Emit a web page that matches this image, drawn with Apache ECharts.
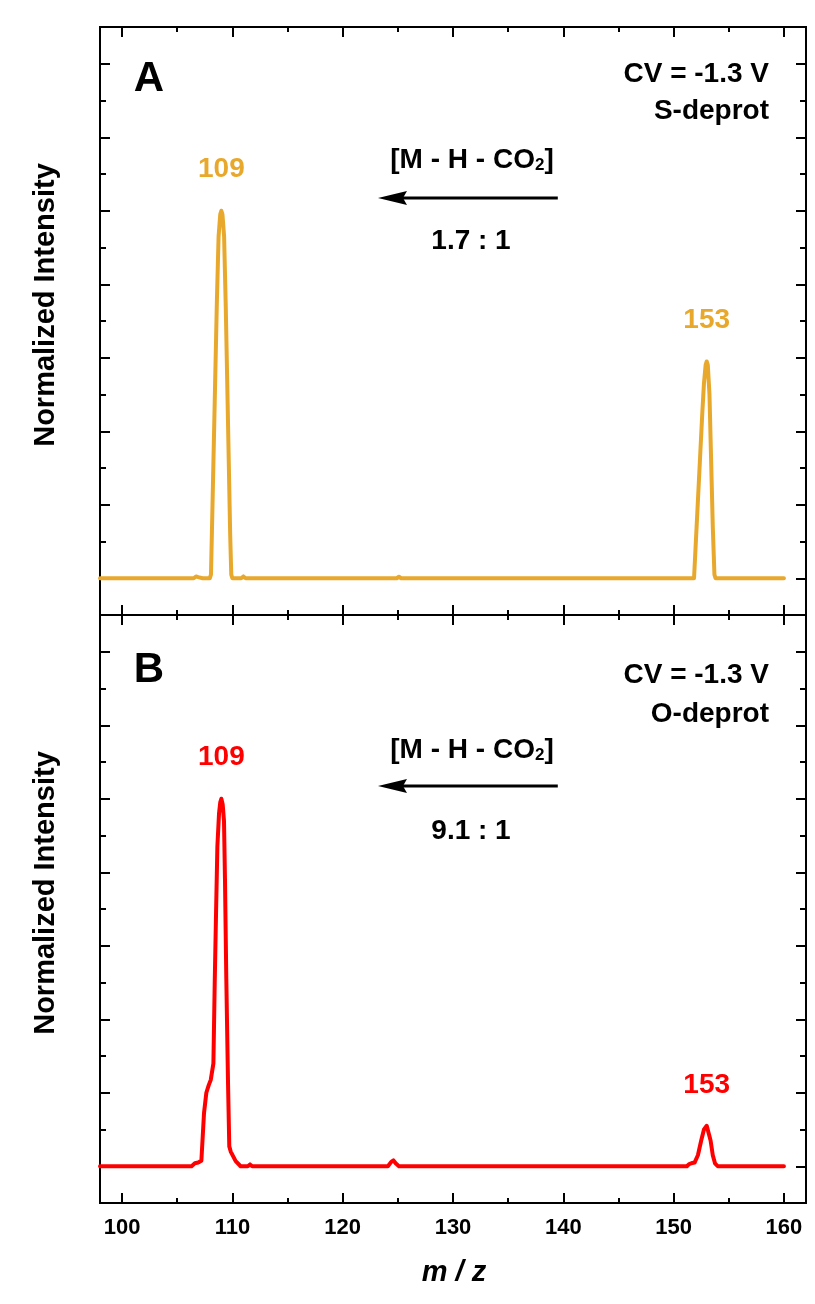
<!DOCTYPE html>
<html>
<head>
<meta charset="utf-8">
<script src="https://cdn.jsdelivr.net/npm/echarts@6/dist/echarts.min.js"></script>
<style>
  html, body { margin: 0; padding: 0; background: #ffffff; }
  #chart { width: 815px; height: 1304px; }
</style>
</head>
<body>
<div id="chart"></div>
<script>
// ---- Spectrum A: S-deprotonated precursor (m/z vs normalized intensity)
const sDeprotMz = [98, 104, 106.5, 106.7, 106.9, 107.3, 107.95, 108.06, 108.2, 108.4,
  108.6, 108.75, 108.9, 109, 109.1, 109.25, 109.4, 109.6, 109.8, 109.9,
  110, 110.8, 111.0, 111.2, 112, 124.9, 125.1, 125.3, 151.85, 152.0,
  152.2, 152.4, 152.6, 152.75, 152.9, 153, 153.1, 153.25, 153.4, 153.55,
  153.7, 153.8, 160];
const sDeprotIntensity = [0, 0, 0, 0.005, 0.003, 0, 0, 0.01, 0.20, 0.48,
  0.76, 0.93, 0.99, 1.0, 0.99, 0.93, 0.74, 0.43, 0.12, 0.01,
  0, 0, 0.005, 0, 0, 0, 0.004, 0, 0, 0.09,
  0.21, 0.33, 0.45, 0.53, 0.58, 0.59, 0.58, 0.50, 0.32, 0.14,
  0.01, 0, 0];

// ---- Spectrum B: O-deprotonated precursor
const oDeprotMz = [98, 106.3, 106.6, 106.9, 107.19, 107.43, 107.64, 107.85, 108.04, 108.28,
  108.40, 108.52, 108.64, 108.79, 108.9, 109.0, 109.12, 109.24, 109.33, 109.45,
  109.60, 109.72, 109.85, 110.0, 110.3, 110.75, 111.4, 111.6, 111.8, 124.1,
  124.4, 124.6, 124.8, 125.1, 151.2, 151.4, 151.6, 151.9, 152.2, 152.5,
  152.75, 153.0, 153.15, 153.35, 153.55, 153.75, 154.0, 160];
const oDeprotIntensity = [0, 0, 0.008, 0.01, 0.015, 0.145, 0.20, 0.22, 0.235, 0.28,
  0.5, 0.69, 0.87, 0.96, 0.99, 1.0, 0.985, 0.94, 0.78, 0.51,
  0.235, 0.054, 0.04, 0.036, 0.014, 0, 0, 0.005, 0, 0,
  0.012, 0.016, 0.008, 0, 0, 0.006, 0.008, 0.01, 0.03, 0.07,
  0.10, 0.11, 0.105, 0.07, 0.03, 0.008, 0, 0];

// Labelled peaks (m/z) and the fragmentation arrow (from, to) in m/z and intensity
const peakMz = [109, 153];
const arrowFrom = [139.5, 1.035];
const arrowTo = [123.2, 1.035];

// Panel text
const panelLetters = ['A', 'B'];
const panelModes = ['S-deprot', 'O-deprot'];
const panelRatios = ['1.7 : 1', '9.1 : 1'];
const cvText = 'CV = -1.3 V';

// Axis ticks
const xMajor = [100, 110, 120, 130, 140, 150, 160];
const xMinor = [105, 115, 125, 135, 145, 155];
const yMajor = [0, 0.2, 0.4, 0.6, 0.8, 1.0, 1.2, 1.4];
const yMinor = [0.1, 0.3, 0.5, 0.7, 0.9, 1.1, 1.3];

const FONT = "'Liberation Sans', Arial, Helvetica, sans-serif";
const COLORS = ['#E8A82C', '#FF0000'];
const GRID_TOP = [27, 615];
const GRID_H = 588;

function xAxisDef(gridIndex, position, ticks, len, withLabels) {
  return {
    type: 'value', gridIndex, position, min: 98, max: 162,
    axisLine: { show: true, onZero: false, lineStyle: { color: '#000', width: 2 } },
    axisTick: { show: true, inside: true, length: len, customValues: ticks,
      lineStyle: { color: '#000', width: 2 } },
    axisLabel: withLabels ? {
      show: true, customValues: ticks, margin: 14, color: '#000',
      fontFamily: FONT, fontWeight: 'bold', fontSize: 22
    } : { show: false },
    splitLine: { show: false }
  };
}
function yAxisDef(gridIndex, position, ticks, len) {
  return {
    type: 'value', gridIndex, position, min: -0.1, max: 1.5,
    axisLine: { show: true, onZero: false, lineStyle: { color: '#000', width: 2 } },
    axisTick: { show: true, inside: true, length: len, customValues: ticks,
      lineStyle: { color: '#000', width: 2 } },
    axisLabel: { show: false },
    splitLine: { show: false }
  };
}

const grids = [], xAxes = [], yAxes = [];
[0, 1].forEach(g => {
  grids.push({ left: 100, top: GRID_TOP[g], width: 706, height: GRID_H, containLabel: false });
  xAxes.push(xAxisDef(g, 'bottom', xMajor, 10, g === 1));
  xAxes.push(xAxisDef(g, 'bottom', xMinor, 5, false));
  xAxes.push(xAxisDef(g, 'top', xMajor, 10, false));
  xAxes.push(xAxisDef(g, 'top', xMinor, 5, false));
  yAxes.push(yAxisDef(g, 'left', yMajor, 10));
  yAxes.push(yAxisDef(g, 'left', yMinor, 6));
  yAxes.push(yAxisDef(g, 'right', yMajor, 10));
  yAxes.push(yAxisDef(g, 'right', yMinor, 6));
});

const spectra = [
  { mz: sDeprotMz, inten: sDeprotIntensity },
  { mz: oDeprotMz, inten: oDeprotIntensity }
];

function intensityAt(sp, m) {
  return sp.inten[sp.mz.indexOf(m)];
}

const series = [];
spectra.forEach((sp, g) => {
  series.push({
    type: 'line', xAxisIndex: g * 4, yAxisIndex: g * 4,
    data: sp.mz.map((m, i) => [m, sp.inten[i]]),
    showSymbol: false, smooth: false, z: 5,
    lineStyle: { color: COLORS[g], width: 4, join: 'round', cap: 'round' },
    markPoint: {
      silent: true, symbol: 'circle', symbolSize: 1,
      itemStyle: { color: 'rgba(0,0,0,0)' },
      label: {
        show: true, position: 'inside', offset: [0, -41],
        formatter: p => String(p.value),
        color: COLORS[g], fontFamily: FONT, fontWeight: 'bold', fontSize: 28
      },
      data: peakMz.map(m => ({ coord: [m, intensityAt(sp, m)], value: m }))
    }
  });
  // Fragmentation arrow: shaft plus a notched head, placed in data coordinates
  series.push({
    type: 'custom', xAxisIndex: g * 4, yAxisIndex: g * 4, silent: true, z: 4,
    data: [[arrowFrom[0], arrowFrom[1], arrowTo[0], arrowTo[1]]],
    renderItem: (params, api) => {
      const p0 = api.coord([api.value(0), api.value(1)]);
      const p1 = api.coord([api.value(2), api.value(3)]);
      const headLen = 29, half = 7, notch = 4;
      return {
        type: 'group',
        children: [
          { type: 'line', shape: { x1: p0[0], y1: p0[1], x2: p1[0] + headLen - notch, y2: p1[1] },
            style: { stroke: '#000', lineWidth: 3 } },
          { type: 'polygon', shape: { points: [
              [p1[0], p1[1]], [p1[0] + headLen, p1[1] - half],
              [p1[0] + headLen - notch, p1[1]], [p1[0] + headLen, p1[1] + half]] },
            style: { fill: '#000' } }
        ]
      };
    }
  });
});

function txt(text, x, y, size, align, extra) {
  return Object.assign({
    type: 'text', x, y, silent: true,
    style: Object.assign({
      text, fill: '#000', font: 'bold ' + size + 'px ' + FONT,
      textAlign: align, textVerticalAlign: 'middle'
    }, (extra && extra.style) || {})
  }, extra && extra.rotation !== undefined ? { rotation: extra.rotation } : {});
}

const graphics = [];
[0, 1].forEach(g => {
  const dy = g === 0 ? 0 : 590;
  graphics.push(txt(panelLetters[g], 149, g === 0 ? 79 : 670, 42, 'center'));
  graphics.push(txt(cvText, 769, g === 0 ? 74 : 675, 28, 'right'));
  graphics.push(txt(panelModes[g], 769, g === 0 ? 111.5 : 714, 28, 'right'));
  graphics.push({
    type: 'text', x: 472, y: 157 + dy, silent: true,
    style: {
      text: '{n|[M - H - CO}{s|2}{n|]}',
      textAlign: 'center', textVerticalAlign: 'middle',
      rich: {
        n: { fontFamily: FONT, fontWeight: 'bold', fontSize: 28, lineHeight: 34,
             fill: '#000', verticalAlign: 'bottom' },
        s: { fontFamily: FONT, fontWeight: 'bold', fontSize: 17, lineHeight: 19,
             fill: '#000', verticalAlign: 'bottom' }
      }
    }
  });
  graphics.push(txt(panelRatios[g], 471, 241.5 + dy, 28, 'center'));
  graphics.push(txt('Normalized Intensity', 46, g === 0 ? 305 : 893, 29, 'center',
    { rotation: Math.PI / 2 }));
});
graphics.push({
  type: 'text', x: 454, y: 1273, silent: true,
  style: { text: 'm / z', fill: '#000', font: 'italic bold 29px ' + FONT,
           textAlign: 'center', textVerticalAlign: 'middle' }
});

const chart = echarts.init(document.getElementById('chart'), null, { renderer: 'canvas' });
chart.setOption({
  backgroundColor: '#ffffff',
  animation: false,
  grid: grids,
  xAxis: xAxes,
  yAxis: yAxes,
  series,
  graphic: graphics
});
</script>
</body>
</html>
